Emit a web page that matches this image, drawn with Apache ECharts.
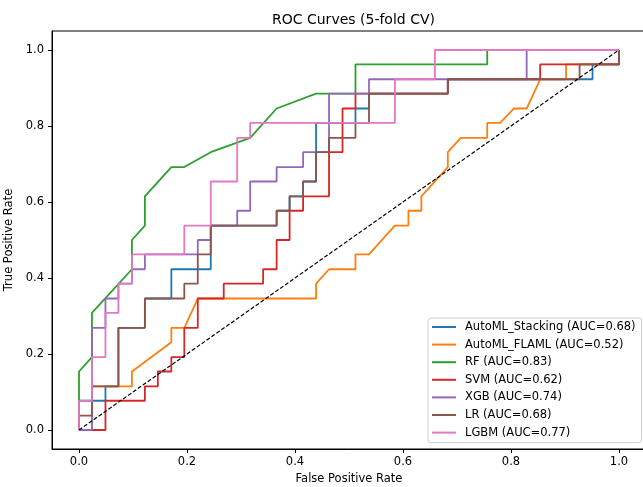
<!DOCTYPE html>
<html>
<head>
<meta charset="utf-8">
<script src="https://cdn.jsdelivr.net/npm/echarts@6/dist/echarts.min.js"></script>
<style>
html, body { margin: 0; padding: 0; background: #fff; }
#chart { width: 643px; height: 487px; }
</style>
</head>
<body>
<div id="chart"></div>
<script>
const models = ['AutoML_Stacking', 'AutoML_FLAML', 'RF', 'SVM', 'XGB', 'LR', 'LGBM'];
const aucValues = [0.68, 0.52, 0.83, 0.62, 0.74, 0.68, 0.77];
const colors = ['#1f77b4', '#ff7f0e', '#2ca02c', '#d62728', '#9467bd', '#8c564b', '#e377c2'];
const tickValues = [0, 0.2, 0.4, 0.6, 0.8, 1.0];

// ROC points (FPR / TPR)
const stackingFpr = [0, 0, 0.049, 0.049, 0.073, 0.073, 0.122, 0.122, 0.171, 0.171, 0.244, 0.244, 0.366, 0.366, 0.39, 0.39, 0.415, 0.415, 0.439, 0.439, 0.512, 0.512, 0.537, 0.537, 0.683, 0.683, 0.951, 0.951, 1, 1];
const stackingTpr = [0, 0.077, 0.077, 0.115, 0.115, 0.269, 0.269, 0.346, 0.346, 0.423, 0.423, 0.538, 0.538, 0.577, 0.577, 0.615, 0.615, 0.654, 0.654, 0.808, 0.808, 0.846, 0.846, 0.885, 0.885, 0.923, 0.923, 0.962, 0.962, 1];

const flamlFpr = [0, 0.024, 0.024, 0.098, 0.098, 0.171, 0.171, 0.195, 0.22, 0.439, 0.439, 0.463, 0.512, 0.512, 0.537, 0.585, 0.61, 0.61, 0.634, 0.634, 0.683, 0.683, 0.707, 0.756, 0.756, 0.78, 0.805, 0.829, 0.854, 0.902, 0.902, 1, 1];
const flamlTpr = [0, 0, 0.115, 0.115, 0.154, 0.231, 0.269, 0.269, 0.346, 0.346, 0.385, 0.423, 0.423, 0.462, 0.462, 0.538, 0.538, 0.577, 0.577, 0.615, 0.692, 0.731, 0.769, 0.769, 0.808, 0.808, 0.846, 0.846, 0.923, 0.923, 0.962, 0.962, 1];

const rfFpr = [0, 0, 0.024, 0.024, 0.098, 0.098, 0.122, 0.122, 0.171, 0.195, 0.244, 0.317, 0.366, 0.439, 0.512, 0.512, 0.756, 0.756, 1];
const rfTpr = [0, 0.154, 0.192, 0.308, 0.423, 0.5, 0.538, 0.615, 0.692, 0.692, 0.731, 0.769, 0.846, 0.885, 0.885, 0.962, 0.962, 1, 1];

const svmFpr = [0, 0.049, 0.049, 0.122, 0.122, 0.146, 0.146, 0.171, 0.171, 0.195, 0.195, 0.22, 0.22, 0.268, 0.268, 0.341, 0.341, 0.366, 0.366, 0.39, 0.39, 0.415, 0.415, 0.463, 0.463, 0.488, 0.488, 0.512, 0.512, 0.683, 0.683, 0.854, 0.854, 1, 1];
const svmTpr = [0, 0, 0.077, 0.077, 0.115, 0.115, 0.154, 0.154, 0.192, 0.192, 0.269, 0.269, 0.346, 0.346, 0.385, 0.385, 0.423, 0.423, 0.5, 0.5, 0.577, 0.577, 0.615, 0.615, 0.731, 0.731, 0.846, 0.846, 0.885, 0.885, 0.923, 0.923, 0.962, 0.962, 1];

const xgbFpr = [0, 0.024, 0.024, 0.049, 0.049, 0.073, 0.073, 0.098, 0.098, 0.122, 0.122, 0.22, 0.22, 0.244, 0.244, 0.293, 0.293, 0.317, 0.317, 0.366, 0.366, 0.415, 0.415, 0.463, 0.463, 0.537, 0.537, 0.829, 0.829, 1];
const xgbTpr = [0, 0, 0.269, 0.269, 0.346, 0.346, 0.385, 0.385, 0.423, 0.423, 0.462, 0.462, 0.5, 0.5, 0.538, 0.538, 0.577, 0.577, 0.654, 0.654, 0.692, 0.692, 0.731, 0.731, 0.885, 0.885, 0.923, 0.923, 1, 1];

const lrFpr = [0, 0, 0.024, 0.024, 0.073, 0.073, 0.122, 0.122, 0.195, 0.195, 0.22, 0.22, 0.244, 0.244, 0.366, 0.366, 0.39, 0.39, 0.415, 0.415, 0.439, 0.439, 0.463, 0.463, 0.512, 0.512, 0.537, 0.537, 0.683, 0.683, 0.927, 0.927, 1, 1];
const lrTpr = [0, 0.038, 0.038, 0.115, 0.115, 0.269, 0.269, 0.346, 0.346, 0.385, 0.385, 0.462, 0.462, 0.538, 0.538, 0.577, 0.577, 0.615, 0.615, 0.654, 0.654, 0.731, 0.731, 0.769, 0.769, 0.808, 0.808, 0.885, 0.885, 0.923, 0.923, 0.962, 0.962, 1];

const lgbmFpr = [0, 0, 0.024, 0.024, 0.049, 0.049, 0.073, 0.073, 0.098, 0.098, 0.195, 0.195, 0.244, 0.244, 0.293, 0.293, 0.317, 0.317, 0.585, 0.585, 0.659, 0.659, 1];
const lgbmTpr = [0, 0.077, 0.077, 0.192, 0.192, 0.308, 0.308, 0.385, 0.385, 0.462, 0.462, 0.538, 0.538, 0.654, 0.654, 0.769, 0.769, 0.808, 0.808, 0.923, 0.923, 1, 1];

const fprList = [stackingFpr, flamlFpr, rfFpr, svmFpr, xgbFpr, lrFpr, lgbmFpr];
const tprList = [stackingTpr, flamlTpr, rfTpr, svmTpr, xgbTpr, lrTpr, lgbmTpr];

const font = 'DejaVu Sans';
const legendNames = models.map((m, i) => m + ' (AUC=' + aucValues[i].toFixed(2) + ')');

const series = models.map((m, i) => ({
  name: legendNames[i],
  type: 'line',
  data: fprList[i].map((x, j) => [x, tprList[i][j]]),
  symbol: 'none',
  showSymbol: false,
  lineStyle: { width: 1.8, color: colors[i] },
  itemStyle: { color: colors[i] }
}));

// chance line
series.push({
  name: 'chance',
  type: 'line',
  data: [[0, 0], [1, 1]],
  symbol: 'none',
  lineStyle: { width: 1.2, color: '#000', type: [4, 2] }
});

const axisCommon = {
  type: 'value',
  min: -0.05,
  max: 1.05,
  splitLine: { show: false },
  axisLine: { show: true, onZero: false, lineStyle: { color: '#000', width: 1 } },
  axisTick: { show: true, inside: false, length: 4, customValues: tickValues, lineStyle: { color: '#000' } },
  axisLabel: {
    customValues: tickValues,
    formatter: v => v.toFixed(1),
    color: '#000',
    fontFamily: font,
    fontSize: 11.5
  },
  nameLocation: 'middle',
  nameTextStyle: { fontFamily: font, fontSize: 11.5, color: '#000' }
};

const chart = echarts.init(document.getElementById('chart'));
chart.setOption({
  animation: false,
  backgroundColor: '#fff',
  title: {
    text: 'ROC Curves (5-fold CV)',
    left: 267,
    top: 8,
    textStyle: { fontFamily: font, fontSize: 14, fontWeight: 'normal', color: '#000' }
  },
  grid: {
    left: 52, top: 31, width: 594, height: 418,
    show: true, borderColor: '#000', borderWidth: 1,
    containLabel: false, outerBoundsMode: 'none'
  },
  legend: {
    data: legendNames,
    orient: 'vertical',
    left: 428,
    top: 318,
    padding: [2, 6, 3, 4],
    itemGap: 3.6,
    itemWidth: 24,
    itemHeight: 2,
    icon: 'rect',
    selectedMode: false,
    backgroundColor: 'rgba(255,255,255,0.8)',
    borderColor: '#ccc',
    borderWidth: 1,
    borderRadius: 3,
    textStyle: { fontFamily: font, fontSize: 11.5, color: '#000', lineHeight: 14, padding: [0, 0, 0, 4] }
  },
  xAxis: Object.assign({}, axisCommon, {
    name: 'False Positive Rate',
    nameGap: 23,
    axisLabel: Object.assign({}, axisCommon.axisLabel, { margin: 7 })
  }),
  yAxis: Object.assign({}, axisCommon, {
    name: 'True Positive Rate',
    nameGap: 32,
    axisLabel: Object.assign({}, axisCommon.axisLabel, { margin: 8 })
  }),
  series: series
});
</script>
</body>
</html>
